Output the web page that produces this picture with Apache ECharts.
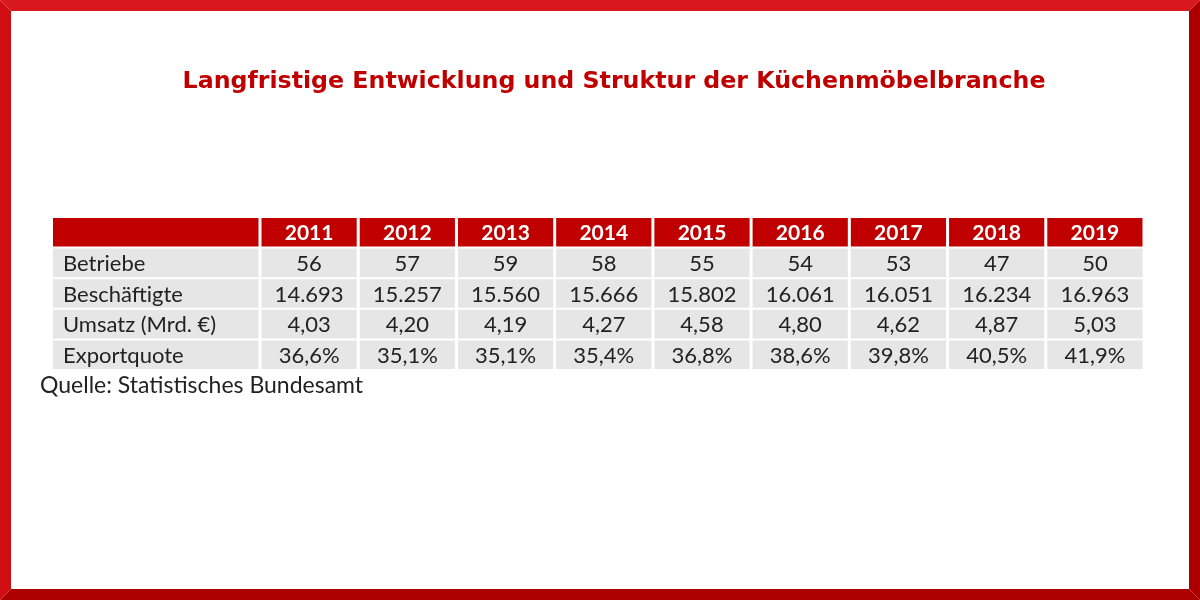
<!DOCTYPE html>
<html>
<head>
<meta charset="utf-8">
<script src="https://cdn.jsdelivr.net/npm/echarts@6/dist/echarts.min.js"></script>
<style>
  html, body { margin: 0; padding: 0; background: #fff; }
  #container { width: 1200px; height: 600px; }
</style>
</head>
<body>
<div id="container"></div>
<script>
var dom = document.getElementById("container");
var myChart = echarts.init(dom);

// Daten
var years = ['2011', '2012', '2013', '2014', '2015', '2016', '2017', '2018', '2019'];
var rowLabels = ['Betriebe', 'Beschäftigte', 'Umsatz (Mrd. €)', 'Exportquote'];
var betriebe = [56, 57, 59, 58, 55, 54, 53, 47, 50];
var beschaeftigte = [14693, 15257, 15560, 15666, 15802, 16061, 16051, 16234, 16963];
var umsatz = [4.03, 4.20, 4.19, 4.27, 4.58, 4.80, 4.62, 4.87, 5.03];
var exportquote = [36.6, 35.1, 35.1, 35.4, 36.8, 38.6, 39.8, 40.5, 41.9];

var rowCats = ['head'].concat(rowLabels);

// deutsches Zahlenformat
function fmt(v, dec) {
    var s = v.toFixed(dec);
    var parts = s.split('.');
    var intPart = parts[0].replace(/\B(?=(\d{3})+(?!\d))/g, '.');
    return parts.length > 1 ? intPart + ',' + parts[1] : intPart;
}

var rows = [
    betriebe.map(function (v) { return fmt(v, 0); }),
    beschaeftigte.map(function (v) { return fmt(v, 0); }),
    umsatz.map(function (v) { return fmt(v, 2); }),
    exportquote.map(function (v) { return fmt(v, 1) + '%'; })
];

var cellData = [];
years.forEach(function (y, i) {
    cellData.push([i, 0, y]);
});
rows.forEach(function (r, ri) {
    r.forEach(function (txt, i) {
        cellData.push([i, ri + 1, txt]);
    });
});
var labelData = [[0, 0, '']];
rowLabels.forEach(function (l, i) {
    labelData.push([0, i + 1, l]);
});

var headColor = '#c00000';
var cellColor = '#e6e6e6';
var textColor = '#222222';
var fontFam = 'Lato, "Open Sans", sans-serif';

function makeRender(alignLeft, list) {
    return function (params, api) {
        var c = api.coord([api.value(0), api.value(1)]);
        var s = api.size([1, 1]);
        var isHead = api.value(1) === 0;
        var x0 = c[0] - s[0] / 2 + 1.5;
        var y0 = c[1] - s[1] / 2 + 1;
        var w = s[0] - 3;
        var h = s[1] - 2;
        var txt = list[params.dataIndex][2];
        return {
            type: 'group',
            children: [{
                type: 'rect',
                shape: { x: x0, y: y0, width: w, height: h },
                style: { fill: isHead ? headColor : cellColor }
            }, {
                type: 'text',
                x: alignLeft ? x0 + 10 : c[0],
                y: c[1] + 1,
                style: {
                    text: txt,
                    fill: isHead ? '#ffffff' : textColor,
                    font: isHead ? 'bold 21px ' + fontFam : '22px ' + fontFam,
                    align: alignLeft ? 'left' : 'center',
                    verticalAlign: 'middle'
                }
            }]
        };
    };
}

var hiddenAxis = {
    axisLine: { show: false }, axisTick: { show: false },
    axisLabel: { show: false }, splitLine: { show: false }
};

option = {
    backgroundColor: '#ffffff',
    title: {
        text: 'Langfristige Entwicklung und Struktur der Küchenmöbelbranche',
        left: 609,
        textAlign: 'center',
        top: 65,
        textStyle: {
            color: '#c00000',
            fontFamily: '"DejaVu Sans", Verdana, sans-serif',
            fontWeight: 'bold',
            fontSize: 23.7
        }
    },
    grid: [
        { left: 260, top: 217, width: 884, height: 153 },
        { left: 51.5, top: 217, width: 208.5, height: 153 }
    ],
    xAxis: [
        Object.assign({ type: 'category', gridIndex: 0, data: years }, hiddenAxis),
        Object.assign({ type: 'category', gridIndex: 1, data: ['label'] }, hiddenAxis)
    ],
    yAxis: [
        Object.assign({ type: 'category', gridIndex: 0, data: rowCats, inverse: true }, hiddenAxis),
        Object.assign({ type: 'category', gridIndex: 1, data: rowCats, inverse: true }, hiddenAxis)
    ],
    series: [{
        type: 'custom',
        xAxisIndex: 0,
        yAxisIndex: 0,
        renderItem: makeRender(false, cellData),
        data: cellData,
        silent: true
    }, {
        type: 'custom',
        xAxisIndex: 1,
        yAxisIndex: 1,
        renderItem: makeRender(true, labelData),
        data: labelData,
        silent: true
    }],
    graphic: [{
        type: 'text',
        left: 40,
        top: 374,
        style: {
            text: 'Quelle: Statistisches Bundesamt',
            fill: textColor,
            font: '23px ' + fontFam
        }
    }, {
        type: 'polygon',
        shape: { points: [[0, 0], [1200, 0], [1189, 11], [11, 11]] },
        style: { fill: '#d8181c' }
    }, {
        type: 'polygon',
        shape: { points: [[0, 0], [11, 11], [11, 589], [0, 600]] },
        style: { fill: '#cf0d12' }
    }, {
        type: 'polygon',
        shape: { points: [[1200, 0], [1200, 600], [1189, 589], [1189, 11]] },
        style: { fill: '#ac0000' }
    }, {
        type: 'polygon',
        shape: { points: [[0, 600], [11, 589], [1189, 589], [1200, 600]] },
        style: { fill: '#ac0000' }
    }]
};

if (option && typeof option === "object") {
    myChart.setOption(option, true);
}
</script>
</body>
</html>
